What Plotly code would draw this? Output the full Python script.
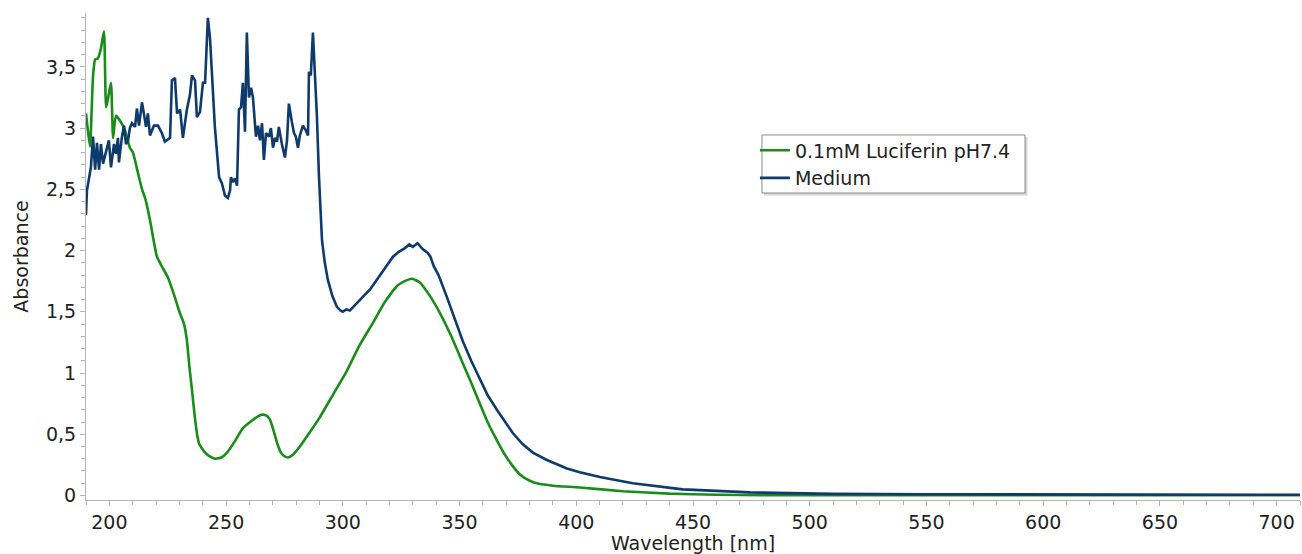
import plotly.graph_objects as go

# ---- Data ----
luciferin_nm = [190.0, 190.4, 191.7, 193.0, 193.9, 195.1, 196.4, 197.7, 198.6, 199.4,
                200.7, 201.6, 202.8, 204.6, 206.7, 208.8, 210.1, 212.3, 214.0, 215.3,
                217.4, 219.0, 220.4, 222.5, 225.1, 227.5, 230.2, 232.0, 233.2, 234.3,
                235.4, 236.5, 237.5, 238.5, 241.0, 243.0, 245.3, 248.0, 250.4, 254.0,
                257.2, 261.0, 264.0, 265.8, 267.5, 268.8, 270.5, 272.0, 273.5, 275.0,
                276.5, 278.5, 281.6, 286.0, 290.2, 296.0, 301.8, 307.0, 312.9, 318.0,
                323.2, 326.5, 329.6, 333.0, 337.3, 341.6, 346.0, 351.4, 355.0, 358.7,
                362.0, 366.0, 369.5, 372.8, 376.0, 380.1, 384.0, 390.0, 401.5, 420.0,
                440.0, 460.0, 480.0, 550.0, 600.0, 650.0, 710.0]
luciferin_abs = [3.12, 3.05, 2.85, 3.42, 3.56, 3.57, 3.65, 3.79, 3.17, 3.24,
                 3.37, 2.92, 3.10, 3.06, 2.98, 2.84, 2.80, 2.63, 2.50, 2.43,
                 2.25, 2.08, 1.95, 1.87, 1.78, 1.65, 1.49, 1.40, 1.27, 1.05,
                 0.86, 0.66, 0.51, 0.42, 0.35, 0.32, 0.30, 0.31, 0.35, 0.45,
                 0.55, 0.61, 0.65, 0.66, 0.65, 0.62, 0.52, 0.42, 0.35, 0.32,
                 0.31, 0.33, 0.40, 0.52, 0.64, 0.83, 1.02, 1.22, 1.41, 1.58,
                 1.71, 1.75, 1.77, 1.74, 1.63, 1.49, 1.32, 1.08, 0.92, 0.75,
                 0.60, 0.45, 0.33, 0.24, 0.17, 0.12, 0.095, 0.08, 0.065, 0.035,
                 0.015, 0.006, 0.003, 0.002, 0.002, 0.002, 0.002]

medium_nm = [190.0, 190.4, 192.1, 193.0, 193.9, 194.7, 195.6, 196.4, 197.3, 198.6,
             199.8, 200.7, 202.0, 202.8, 203.7, 204.1, 205.4, 206.3, 207.1, 208.0,
             208.8, 209.7, 211.0, 211.8, 212.7, 214.0, 214.8, 215.7, 216.5, 217.4,
             219.1, 220.8, 222.5, 223.8, 226.0, 226.8, 228.1, 229.0, 230.3, 231.5,
             233.2, 234.5, 235.4, 236.7, 237.5, 238.8, 240.1, 241.0, 242.2, 243.1,
             245.2, 247.0, 248.2, 249.5, 250.8, 251.7, 252.1, 252.9, 253.8, 254.7,
             255.5, 256.4, 257.2, 258.1, 258.9, 259.8, 260.7, 261.5, 262.8, 263.7,
             264.5, 265.4, 266.2, 267.1, 268.4, 269.2, 270.1, 270.9, 271.8, 272.6,
             273.9, 275.2, 276.1, 276.9, 278.2, 279.1, 279.9, 280.8, 281.6, 282.9,
             284.2, 285.1, 285.5, 286.3, 287.2, 288.1, 288.9, 289.8, 291.1, 292.3,
             293.6, 295.5, 297.5, 299.0, 300.0, 301.5, 303.0, 305.0, 307.3, 309.5,
             311.6, 314.5, 317.2, 319.5, 321.5, 324.0, 326.6, 328.5, 330.0, 332.0,
             334.3, 336.4, 337.5, 339.0, 341.0, 344.6, 348.0, 351.4, 355.0, 358.7,
             362.0, 366.0, 369.5, 372.8, 377.0, 381.4, 387.4, 396.0, 401.5, 410.1,
             424.2, 445.6, 474.3, 509.9, 550.0, 600.0, 650.0, 710.0]
medium_abs = [2.29, 2.49, 2.68, 2.93, 2.66, 2.88, 2.66, 2.87, 2.71, 2.82,
              2.90, 2.68, 2.87, 2.79, 2.92, 2.72, 2.93, 3.02, 2.87, 2.90,
              3.00, 3.04, 3.01, 3.16, 3.02, 3.21, 3.10, 3.01, 3.12, 2.94,
              3.02, 3.02, 2.96, 2.89, 2.92, 3.39, 3.41, 3.12, 3.15, 2.92,
              3.15, 3.27, 3.43, 3.39, 3.09, 3.13, 3.37, 3.37, 3.90, 3.74,
              3.01, 2.60, 2.55, 2.45, 2.43, 2.49, 2.60, 2.56, 2.59, 2.53,
              3.15, 3.17, 3.37, 2.97, 3.78, 3.25, 3.33, 3.25, 2.93, 3.02,
              2.90, 3.04, 2.74, 2.96, 2.93, 3.00, 2.84, 2.92, 2.89, 3.01,
              2.87, 2.76, 2.90, 3.20, 3.05, 2.96, 2.93, 2.84, 2.94, 3.02,
              2.98, 2.94, 3.46, 3.43, 3.78, 3.42, 3.10, 2.60, 2.08, 1.90,
              1.76, 1.63, 1.54, 1.51, 1.50, 1.52, 1.51, 1.55, 1.60, 1.64,
              1.68, 1.76, 1.84, 1.90, 1.95, 1.99, 2.02, 2.05, 2.03, 2.06,
              2.01, 1.98, 1.95, 1.87, 1.80, 1.62, 1.44, 1.26, 1.10, 0.95,
              0.82, 0.70, 0.60, 0.51, 0.42, 0.35, 0.29, 0.22, 0.19, 0.15,
              0.10, 0.05, 0.025, 0.013, 0.01, 0.008, 0.008, 0.006]

series_names = ["0.1mM Luciferin pH7.4", "Medium"]
series_colors = ["#1a8c1a", "#0e3a6c"]

x_tick_vals = [200, 250, 300, 350, 400, 450, 500, 550, 600, 650, 700]
y_tick_vals = [0, 0.5, 1, 1.5, 2, 2.5, 3, 3.5]

FONT = "DejaVu Sans, Verdana, sans-serif"
FS = 19
AXIS_GRAY = "#b4b4b4"
TEXT = "#222222"

fig = go.Figure()
fig.add_trace(go.Scatter(x=luciferin_nm, y=luciferin_abs, mode="lines",
                         name=series_names[0],
                         line=dict(color=series_colors[0], width=2.6,
                                   shape="spline", smoothing=0.5)))
fig.add_trace(go.Scatter(x=medium_nm, y=medium_abs, mode="lines",
                         name=series_names[1],
                         line=dict(color=series_colors[1], width=2.6)))

# legend frame with a soft shadow (paper coordinates)
fig.add_shape(type="rect", xref="paper", yref="paper",
              x0=0.5585, x1=0.7755, y0=0.6255, y1=0.7455,
              fillcolor="#d6d6d6", line=dict(width=0), layer="above")
fig.add_shape(type="rect", xref="paper", yref="paper",
              x0=0.5568, x1=0.7735, y0=0.6304, y1=0.7495,
              fillcolor="white", line=dict(color="#8a8a8a", width=1), layer="above")

fig.update_layout(
    width=1302, height=554,
    margin=dict(l=86, r=2, t=13, b=54),
    paper_bgcolor="white", plot_bgcolor="white",
    separators=", ",
    font=dict(family=FONT, size=FS, color=TEXT),
    showlegend=True,
    legend=dict(x=0.551, y=0.757, xanchor="left", yanchor="top",
                bgcolor="rgba(0,0,0,0)", borderwidth=0,
                font=dict(family=FONT, size=FS, color=TEXT),
                tracegroupgap=0, itemwidth=30),
)

fig.update_xaxes(
    range=[190, 710], tickvals=x_tick_vals,
    showline=True, linecolor=AXIS_GRAY, linewidth=1,
    ticks="outside", ticklen=5, tickcolor=AXIS_GRAY,
    minor=dict(dtick=10, ticks="outside", ticklen=4, tickcolor=AXIS_GRAY),
    showgrid=False, zeroline=False,
    tickfont=dict(family=FONT, size=FS, color=TEXT),
    title=dict(text="Wavelength [nm]", font=dict(family=FONT, size=FS, color=TEXT), standoff=1),
)
fig.update_yaxes(
    range=[-0.037, 3.94], tickvals=y_tick_vals,
    showline=True, linecolor=AXIS_GRAY, linewidth=1,
    ticks="outside", ticklen=5, tickcolor=AXIS_GRAY,
    minor=dict(dtick=0.1, ticks="outside", ticklen=4, tickcolor=AXIS_GRAY),
    showgrid=False, zeroline=False,
    tickfont=dict(family=FONT, size=FS, color=TEXT),
    title=dict(text="Absorbance", font=dict(family=FONT, size=FS, color=TEXT), standoff=12),
)

fig.write_html("out.html")
